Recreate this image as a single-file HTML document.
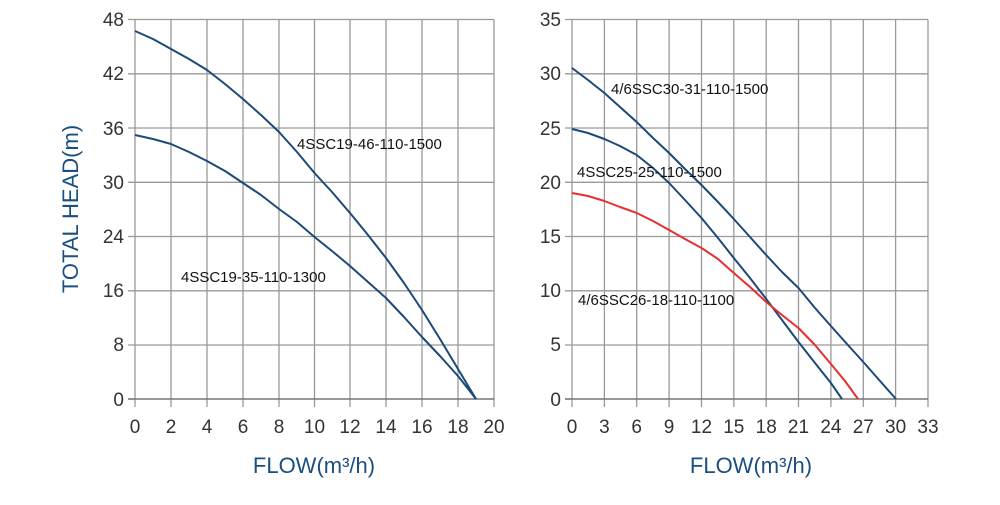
<!DOCTYPE html>
<html><head><meta charset="utf-8"><style>body{margin:0;background:#fff}</style></head><body>
<svg width="1000" height="500" xmlns="http://www.w3.org/2000/svg" font-family="Liberation Sans, sans-serif">
<rect width="1000" height="500" fill="#fff"/>
<g stroke="#999" stroke-width="1.3" fill="none">
<path d="M135,19.5H494M135,73.8H494M135,128H494M135,182.3H494M135,236.5H494M135,290.8H494M135,345H494"/>
<path d="M135,19.5V407M171,19.5V407M207,19.5V407M243,19.5V407M279,19.5V407M314.5,19.5V407M350,19.5V407M386,19.5V407M422,19.5V407M458,19.5V407M494,19.5V407"/>
<path d="M128,19.5H135M128,73.8H135M128,128H135M128,182.3H135M128,236.5H135M128,290.8H135M128,345H135M128,399H135"/>
<path d="M572,19.5H928M572,73.8H928M572,128H928M572,182.3H928M572,236.5H928M572,290.8H928M572,345H928"/>
<path d="M572,19.5V407M604.4,19.5V407M636.7,19.5V407M669.1,19.5V407M701.5,19.5V407M733.8,19.5V407M766.2,19.5V407M798.5,19.5V407M830.9,19.5V407M863.3,19.5V407M895.6,19.5V407M928,19.5V407"/>
<path d="M565,19.5H572M565,73.8H572M565,128H572M565,182.3H572M565,236.5H572M565,290.8H572M565,345H572M565,399H572"/>
</g>
<g stroke="#777" stroke-width="1.5"><path d="M128,399H494M565,399H928"/></g>
<g font-size="19" fill="#333" text-anchor="end">
<text x="124" y="26">48</text><text x="124" y="80">42</text><text x="124" y="135">36</text><text x="124" y="189">30</text><text x="124" y="243">24</text><text x="124" y="297">16</text><text x="124" y="351">8</text><text x="124" y="406">0</text>
<text x="561" y="26">35</text><text x="561" y="80">30</text><text x="561" y="135">25</text><text x="561" y="189">20</text><text x="561" y="243">15</text><text x="561" y="297">10</text><text x="561" y="351">5</text><text x="561" y="406">0</text>
</g>
<g font-size="19" fill="#333" text-anchor="middle">
<text x="135" y="433">0</text><text x="171" y="433">2</text><text x="207" y="433">4</text><text x="243" y="433">6</text><text x="279" y="433">8</text><text x="314.5" y="433">10</text><text x="350" y="433">12</text><text x="386" y="433">14</text><text x="422" y="433">16</text><text x="458" y="433">18</text><text x="494" y="433">20</text>
<text x="572" y="433">0</text><text x="604.4" y="433">3</text><text x="636.7" y="433">6</text><text x="669.1" y="433">9</text><text x="701.5" y="433">12</text><text x="733.8" y="433">15</text><text x="766.2" y="433">18</text><text x="798.5" y="433">21</text><text x="830.9" y="433">24</text><text x="863.3" y="433">27</text><text x="895.6" y="433">30</text><text x="928" y="433">33</text>
</g>
<g fill="none" stroke-width="2" stroke="#1c4a78" stroke-linejoin="round">
<polyline points="135,31 153,39 171,49 189,59 207,70 225,84 243,99 261,115 279,132 297,152 314.5,173 332,192 350,213 368,235 386,258 404,283 422,310 440,339 458,369 476,399"/>
<polyline points="135,135 153,139 171,144 189,152 207,161 225,171 243,183 261,195 279,209 297,222 314.5,237 332,251 350,266 368,282 386,298 404,317 422,337 440,356 458,376 476,399"/>
<polyline points="572,68 588,80 604.4,93 620,107 636.7,122 653,138 669.1,153 685,169 701.5,185 718,202 733.8,219 750,237 766.2,255 782,272 798.5,288 815,308 830.9,326 847,344 863.3,362 880,381 896,399"/>
<polyline points="572,129 588,133 604.4,139 620,146 636.7,155 653,168 669.1,183 685,200 701.5,218 718,238 733.8,258 750,278 766.2,299 782,320 798.5,342 815,363 830.9,383 842,399"/>
</g>
<polyline points="572,193 588,196 604.4,201 620,207 636.7,213 653,221 669.1,230 685,239 701.5,248 718,259 733.8,273 750,287 766.2,302 782,315 798.5,328 815,345 830.9,364 845,381 858,399" fill="none" stroke="#e53030" stroke-width="2" stroke-linejoin="round"/>
<g font-size="15" fill="#111">
<text x="297" y="149">4SSC19-46-110-1500</text>
<text x="181" y="282">4SSC19-35-110-1300</text>
<text x="611" y="94">4/6SSC30-31-110-1500</text>
<text x="577" y="177">4SSC25-25-110-1500</text>
<text x="578" y="305">4/6SSC26-18-110-1100</text>
</g>
<g font-size="22" fill="#1a4f80">
<text x="314" y="473" text-anchor="middle">FLOW(m³/h)</text>
<text x="751" y="473" text-anchor="middle">FLOW(m³/h)</text>
<text transform="translate(78,209) rotate(-90)" text-anchor="middle">TOTAL HEAD(m)</text>
</g>
</svg>
</body></html>
